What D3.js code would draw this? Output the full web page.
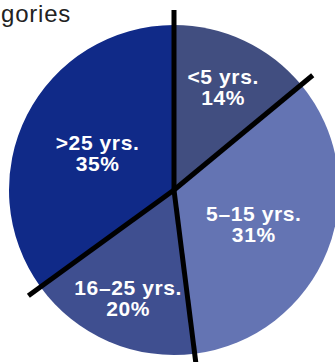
<!DOCTYPE html>
<html>
<head>
<meta charset="utf-8">
<script src="https://cdn.jsdelivr.net/npm/d3@7"></script>
<style>
  html, body { margin: 0; padding: 0; background: #fff; }
  svg { display: block; }
</style>
</head>
<body>
<svg id="chart" width="335" height="362"></svg>
<script>
// ---- data ----
const categories = ["<5 yrs.", "5\u201315 yrs.", "16\u201325 yrs.", ">25 yrs."];
const percentLabels = ["14%", "31%", "20%", "35%"];
// slice sizes as drawn in the picture (share of the circle, %)
const sliceValues = [14, 34, 17, 35];
const titleText = "gories";

// ---- style ----
const colors = ["#414e80", "#6474b3", "#3f4f90", "#102a88"];
const W = 335, H = 362;
const cx = 174, cy = 190, R = 165, lineR = 180;

const svg = d3.select("#chart");

svg.append("text")
  .attr("x", 1).attr("y", 22)
  .attr("font-family", "Liberation Sans, Arial, sans-serif")
  .attr("font-size", 24)
  .attr("letter-spacing", 0.8)
  .attr("fill", "#222")
  .text(titleText);

const pie = d3.pie().sort(null).value(d => d)(sliceValues);
const arc = d3.arc().innerRadius(0).outerRadius(R);

const g = svg.append("g").attr("transform", `translate(${cx},${cy})`);

g.selectAll("path.slice").data(pie).join("path")
  .attr("class", "slice")
  .attr("d", arc)
  .attr("fill", (d, i) => colors[i]);

// divider lines at slice boundaries
const bounds = pie.map(d => d.startAngle);
g.selectAll("line.div").data(bounds).join("line")
  .attr("class", "div")
  .attr("x1", 0).attr("y1", 0)
  .attr("x2", a => lineR * Math.sin(a))
  .attr("y2", a => -lineR * Math.cos(a))
  .attr("stroke", "#000")
  .attr("stroke-width", 5);

// labels
const labG = g.selectAll("g.lab").data(pie).join("g")
  .attr("class", "lab")
  .attr("transform", d => {
    const a = (d.startAngle + d.endAngle) / 2;
    const share = (d.endAngle - d.startAngle) / (2 * Math.PI);
    const r = share < 0.25 ? R * 0.7 : R * 0.52;
    return `translate(${r * Math.sin(a)},${-r * Math.cos(a)})`;
  });

labG.append("text")
  .attr("text-anchor", "middle")
  .attr("y", -1)
  .attr("font-family", "Liberation Sans, Arial, sans-serif")
  .attr("font-weight", "bold")
  .attr("font-size", 21)
  .attr("letter-spacing", 0.6)
  .attr("fill", "#fff")
  .text((d, i) => categories[i]);

labG.append("text")
  .attr("text-anchor", "middle")
  .attr("y", 20)
  .attr("font-family", "Liberation Sans, Arial, sans-serif")
  .attr("font-weight", "bold")
  .attr("font-size", 21)
  .attr("letter-spacing", 0.6)
  .attr("fill", "#fff")
  .text((d, i) => percentLabels[i]);
</script>
</body>
</html>
